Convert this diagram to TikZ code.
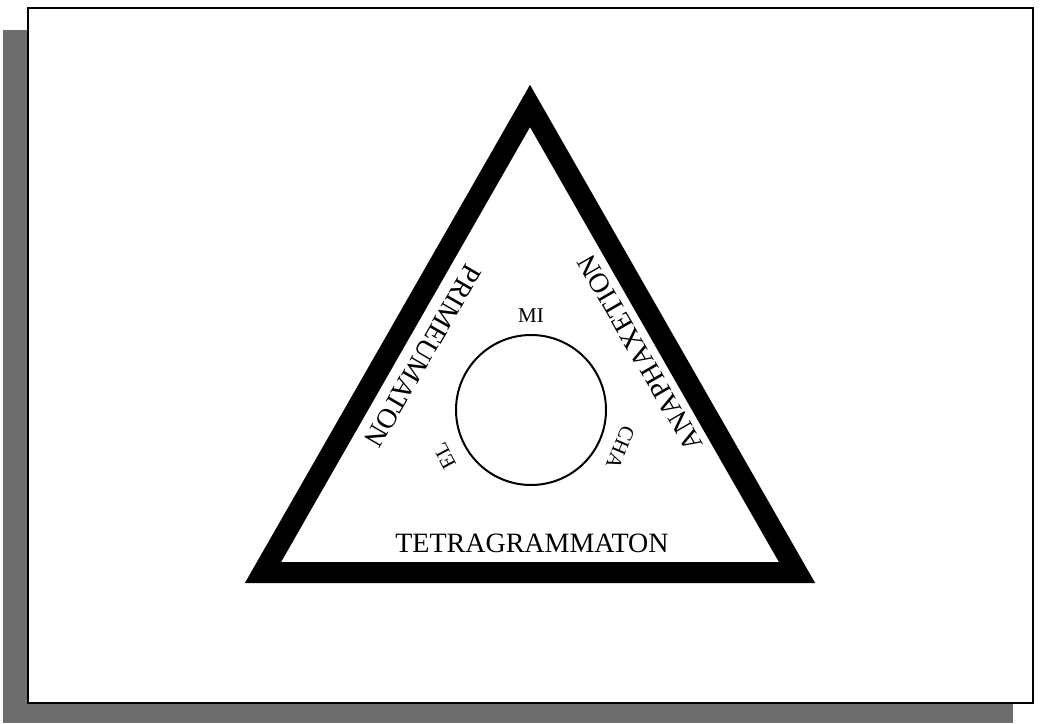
\documentclass[tikz,border=0pt]{standalone}
\usepackage{fontspec}
\setmainfont{Liberation Serif}
\usetikzlibrary{positioning, calc}
\definecolor{cShadow}{RGB}{110,110,110}
\tikzset{
	sidetext/.style={font=\fontsize{28}{31}\selectfont, inner sep=0pt},
	ringtext/.style={font=\fontsize{21}{24}\selectfont, inner sep=0pt},
	pageframe/.style={draw=black, line width=2pt, fill=white},
	ring/.style={circle, draw=black, line width=2pt, minimum size=150pt, inner sep=0pt},
}

\begin{document}
\begin{tikzpicture}[x=1pt, y=1pt, line join=miter]
	\useasboundingbox (0,0) rectangle (1046,723);
	% shadow and page
	\fill[cShadow] (3,0) rectangle (1013,693);
	\draw[pageframe] (28,20) rectangle (1033,715);
	% triangle
	\coordinate (apex) at (530,617);
	\coordinate (bl) at (263,150.5);
	\coordinate (br) at (797,150.5);
	\draw[line width=21pt] (apex) -- (bl) -- (br) -- cycle;
	\node[sidetext, rotate=-120] (prim) at (423,367) {PRIMEUMATON};
	\node[sidetext, rotate=120] (anap) at (640,370) {ANAPHAXETION};
	\node[sidetext] (tetra) at (532,180) {TETRAGRAMMATON};
	% circle
	\node[ring] (circ) at (531,313) {};
	\node[ringtext] (mi) at ($(circ.center)+(90:94)$) {MI};
	\node[ringtext, rotate=-113] (cha) at ($(circ.center)+(-23:97)$) {CHA};
	\node[ringtext, rotate=118] (el) at ($(circ.center)+(208:98)$) {EL};
\end{tikzpicture}
\end{document}
